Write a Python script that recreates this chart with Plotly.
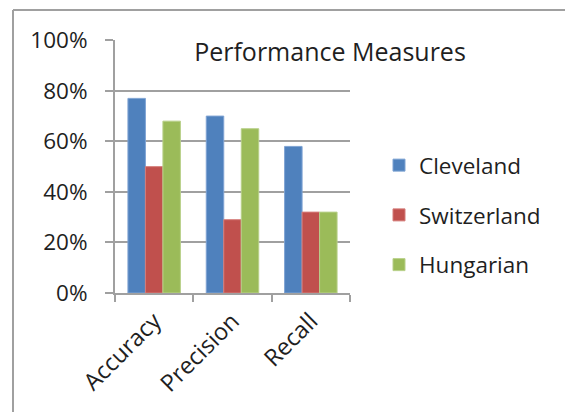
import plotly.graph_objects as go

categories = ["Accuracy", "Precision", "Recall"]
series_names = ["Cleveland", "Switzerland", "Hungarian"]
cleveland = [0.77, 0.70, 0.58]
switzerland = [0.50, 0.29, 0.32]
hungarian = [0.68, 0.65, 0.32]
y_ticks = [0, 0.2, 0.4, 0.6, 0.8, 1.0]
y_tick_labels = ["0%", "20%", "40%", "60%", "80%", "100%"]

colors = ["#4F81BD", "#C0504D", "#9BBB59"]
edge = ["#7FA3D3", "#D57D7A", "#B8D08A"]

FONT = "Open Sans"
fig = go.Figure()
for name, vals, c, e in zip(series_names, [cleveland, switzerland, hungarian], colors, edge):
    fig.add_trace(go.Bar(x=categories, y=vals, name=name, legendgroup=name,
                         marker=dict(color=c, line=dict(color=e, width=1))))

W, H = 565, 412
L, R, T, B = 115, 215, 40, 119
pw, ph = W - L - R, H - T - B

def px_x(x):
    return (x - L) / pw

def px_y(y):
    return (H - B - y) / ph

fig.update_layout(
    width=W, height=H,
    margin=dict(l=L, r=R, t=T, b=B, pad=0),
    paper_bgcolor="white", plot_bgcolor="white",
    font=dict(family=FONT, size=22.5, color="#1F1F1F"),
    barmode="group", bargap=0.33, bargroupgap=0,
    title=dict(text="Performance Measures", xref="paper", yref="paper",
               x=px_x(330), y=px_y(52), xanchor="center", yanchor="middle",
               font=dict(family=FONT, size=25, color="#1F1F1F")),
    legend=dict(x=px_x(379), y=px_y(144), xanchor="left", yanchor="top",
                tracegroupgap=17.5, font=dict(family=FONT, size=22.5, color="#1F1F1F"),
                bgcolor="rgba(0,0,0,0)"),
    xaxis=dict(showline=True, linecolor="#A0A0A0", linewidth=2, ticks="outside",
               tickson="boundaries", ticklen=7, tickcolor="#A0A0A0", tickwidth=2,
               tickangle=-45, showgrid=False, tickfont=dict(size=23.5),
               ticklabelstandoff=3),
    yaxis=dict(range=[0, 1.001], tickvals=y_ticks, ticktext=y_tick_labels,
               showline=True, linecolor="#A0A0A0", linewidth=2, ticks="outside",
               ticklen=8, tickcolor="#A0A0A0", tickwidth=2,
               showgrid=True, gridcolor="#A0A0A0", gridwidth=2, zeroline=False,
               ticklabelstandoff=13),
    shapes=[
        dict(type="line", xref="paper", yref="paper", x0=px_x(13), x1=px_x(570),
             y0=px_y(10), y1=px_y(10), line=dict(color="#A0A0A0", width=2)),
        dict(type="line", xref="paper", yref="paper", x0=px_x(13), x1=px_x(13),
             y0=px_y(10), y1=px_y(415), line=dict(color="#A0A0A0", width=2)),
    ],
)
fig.write_html("out.html", config={"displayModeBar": False},
               post_script="document.body.style.margin='0';")
